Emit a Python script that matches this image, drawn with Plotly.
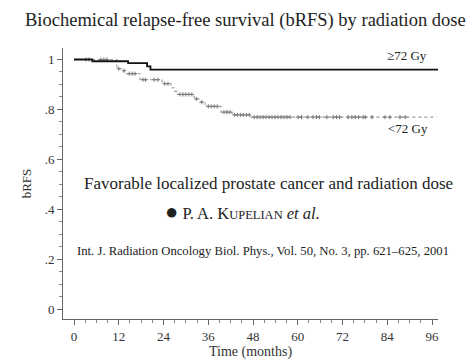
import plotly.graph_objects as go

# ---- data ----
time_ge72 = [0, 4.9, 14.5, 19.6, 20.5, 97.6]
surv_ge72 = [1.0, 0.993, 0.985, 0.972, 0.959, 0.959]

time_lt72 = [0, 11.5, 12.8, 14.0, 17.7, 23.6, 26.0, 26.8, 27.6, 32.2, 33.5, 35.2,
             39.4, 42.4, 47.5, 97.3]
surv_lt72 = [1.0, 0.963, 0.955, 0.943, 0.919, 0.903, 0.887, 0.872, 0.86, 0.842,
             0.829, 0.812, 0.789, 0.778, 0.769, 0.769]

censor_lt72 = [3.2, 4.0, 7.2, 8.0, 8.8, 12.0, 13.4, 14.8, 15.6, 16.4, 18.5, 19.2,
               21.5, 22.5, 24.3, 25.2, 28.4, 29.2, 30.0, 30.8, 31.6, 32.8, 34.3,
               36.0, 36.8, 37.6, 38.4, 40.2, 41.0, 41.8, 43.0, 43.8, 44.6, 45.4,
               46.2, 47.0, 48.3, 49.1, 49.9, 50.7, 51.5, 52.3, 53.1, 53.9, 54.7,
               55.5, 56.3, 57.1, 57.9, 60.1, 61.0, 62.7, 64.1, 65.0, 65.8, 67.8,
               69.5, 70.4, 71.2, 73.5, 74.5, 75.4, 76.3, 77.5, 78.1, 79.9, 83.4,
               84.7, 87.4, 88.8]

y_tickvals = [0, 0.2, 0.4, 0.6, 0.8, 1.0]
y_ticktext = ["0", ".2", ".4", ".6", ".8", "1"]
x_tickvals = [0, 12, 24, 36, 48, 60, 72, 84, 96]


def km_value(t, times, surv):
    v = surv[0]
    for tt, s in zip(times, surv):
        if tt <= t:
            v = s
    return v


censor_vals = [km_value(t, time_lt72, surv_lt72) for t in censor_lt72]

SERIF = "Liberation Serif, Times New Roman, serif"
TXT = "#222222"

fig = go.Figure()
fig.add_trace(go.Scatter(x=time_lt72, y=surv_lt72, mode="lines",
                         line=dict(shape="hv", color="#9a9a9a", width=1.1, dash="dot"),
                         showlegend=False, hoverinfo="skip"))
fig.add_trace(go.Scatter(x=censor_lt72, y=censor_vals, mode="markers",
                         marker=dict(symbol="cross-thin", size=3,
                                     line=dict(color="#777777", width=1)),
                         showlegend=False, hoverinfo="skip"))
fig.add_trace(go.Scatter(x=time_ge72, y=surv_ge72, mode="lines",
                         line=dict(shape="hv", color="#111111", width=1.8),
                         showlegend=False, hoverinfo="skip"))

fig.update_layout(
    width=476, height=364,
    margin=dict(l=63, r=38, t=48, b=45),
    paper_bgcolor="white", plot_bgcolor="white",
    font=dict(family=SERIF, color=TXT, size=12),
    xaxis=dict(range=[-2.95, 97.6], tickvals=x_tickvals, ticks="outside", ticklen=5,
               tickwidth=1, tickcolor="#666", showline=True, linecolor="#666",
               linewidth=1, showgrid=False, zeroline=False, automargin=False,
               tickfont=dict(family=SERIF, size=13, color="#333"),
               minor=dict(dtick=3, tick0=0, ticks="outside", ticklen=3, tickcolor="#888",
                          showgrid=False),
               title=dict(text="Time (months)", font=dict(family=SERIF, size=14, color="#333"),
                          standoff=2)),
    yaxis=dict(range=[-0.04, 1.046], tickvals=y_tickvals, ticktext=y_ticktext,
               ticks="outside", ticklen=5, tickwidth=1, tickcolor="#666",
               showline=True, linecolor="#666", linewidth=1, showgrid=False,
               zeroline=False, automargin=False,
               tickfont=dict(family=SERIF, size=13, color="#333"),
               minor=dict(dtick=0.05, tick0=0, ticks="outside", ticklen=3,
                          tickcolor="#888", showgrid=False),
               title=dict(text="bRFS", font=dict(family=SERIF, size=13, color="#333"),
                          standoff=10)),
    annotations=[
        dict(text="Biochemical relapse-free survival (bRFS) by radiation dose",
             xref="paper", yref="paper", x=(245 - 63) / 375, y=1 + (48 - 20) / 271,
             showarrow=False, font=dict(family=SERIF, size=18.5, color=TXT),
             xanchor="center", yanchor="middle"),
        dict(text="\u226572 Gy", x=89.3, y=1.016, xref="x", yref="y", showarrow=False,
             font=dict(family=SERIF, size=13, color=TXT)),
        dict(text="<72 Gy", x=89.6, y=0.723, xref="x", yref="y", showarrow=False,
             font=dict(family=SERIF, size=13, color=TXT)),
        dict(text="Favorable localized prostate cancer and radiation dose",
             xref="paper", yref="paper", x=(268 - 63) / 375, y=(319 - 183) / 271,
             showarrow=False, font=dict(family=SERIF, size=17, color=TXT)),
        dict(text="<span style='font-size:22px'>\u25cf</span> P. A. K<span style='font-size:12.5px'>UPELIAN</span> <i>et al.</i>",
             xref="paper", yref="paper", x=(163 - 63) / 375, y=(319 - 211) / 271,
             xanchor="left", showarrow=False, font=dict(family=SERIF, size=16.5, color=TXT)),
        dict(text="Int. J. Radiation Oncology Biol. Phys., Vol. 50, No. 3, pp. 621\u2013625, 2001",
             xref="paper", yref="paper", x=(263 - 63) / 375, y=(319 - 260) / 271,
             showarrow=False, font=dict(family=SERIF, size=12.7, color=TXT)),
    ],
)

fig.write_html("out.html", config={"displayModeBar": False},
               post_script="document.body.style.margin='0';document.body.style.padding='0';")
